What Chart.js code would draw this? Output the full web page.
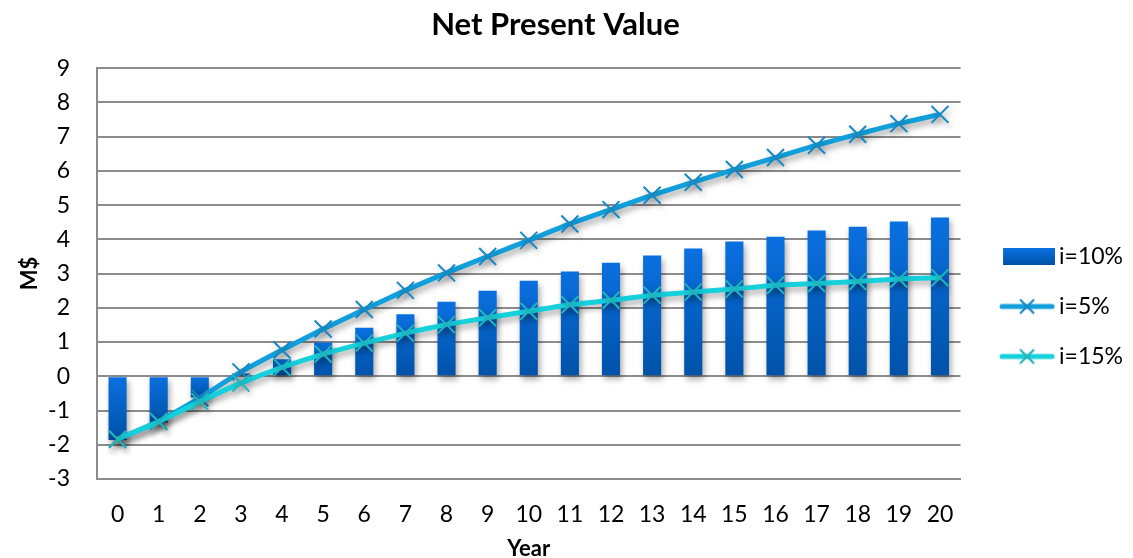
<!DOCTYPE html>
<html><head><meta charset="utf-8">
<script src="https://cdn.jsdelivr.net/npm/chart.js@4/dist/chart.umd.min.js"></script>
<style>html,body{margin:0;padding:0;background:#fff}#wrap{width:1133px;height:558px}</style>
</head><body><div id="wrap"><canvas id="c" width="1133" height="558"></canvas></div>
<script>
const years = ['0','1','2','3','4','5','6','7','8','9','10','11','12','13','14','15','16','17','18','19','20'];
const npv10 = [-1.86,-1.36,-0.62,0.08,0.50,0.99,1.42,1.81,2.18,2.50,2.79,3.06,3.32,3.53,3.73,3.94,4.08,4.26,4.37,4.52,4.64];
const npv5  = [-1.84,-1.31,-0.63,0.13,0.77,1.38,1.95,2.51,3.02,3.50,3.97,4.45,4.87,5.29,5.67,6.04,6.39,6.75,7.07,7.38,7.65];
const npv15 = [-1.84,-1.33,-0.74,-0.20,0.26,0.65,0.97,1.26,1.51,1.71,1.90,2.09,2.22,2.37,2.46,2.55,2.66,2.71,2.77,2.84,2.88];
const seriesNames = ['i=10%','i=5%','i=15%'];

const FONT = 'Lato, "Open Sans", sans-serif';
const barTop = '#0a70e0', barBot = '#0052a8';
const c5 = '#12a0dc', c5m = '#1688c4';
const c15 = '#16d0dc', c15m = '#22b4bc';

function barGradient(ctx) {
  const chart = ctx.chart;
  if (!chart.chartArea || ctx.type !== 'data') return barTop;
  const y = chart.scales.y;
  const v = ctx.raw;
  const a = y.getPixelForValue(0), b = y.getPixelForValue(v);
  const t = Math.min(a, b), bt = Math.max(a, b);
  if (bt - t < 1) return barTop;
  const g = chart.ctx.createLinearGradient(0, t, 0, bt);
  g.addColorStop(0, barTop);
  g.addColorStop(1, barBot);
  return g;
}

const ICON_W = 75;
function iconBar() {
  const cv = document.createElement('canvas'); cv.width = ICON_W; cv.height = 17;
  const x = cv.getContext('2d');
  const g = x.createLinearGradient(0, 0, 0, 17);
  g.addColorStop(0, barTop); g.addColorStop(1, barBot);
  x.fillStyle = g; x.fillRect(ICON_W - 52, 0, 52, 17);
  return cv;
}
function iconLine(col, mcol) {
  const cv = document.createElement('canvas'); cv.width = ICON_W; cv.height = 18;
  const x = cv.getContext('2d');
  const o = ICON_W - 56;
  x.strokeStyle = col; x.lineWidth = 5; x.lineCap = 'round';
  x.beginPath(); x.moveTo(o + 3, 9); x.lineTo(o + 53, 9); x.stroke();
  x.strokeStyle = mcol; x.lineWidth = 2.2; x.lineCap = 'butt';
  x.beginPath(); x.moveTo(o + 21, 2); x.lineTo(o + 35, 16); x.moveTo(o + 35, 2); x.lineTo(o + 21, 16); x.stroke();
  return cv;
}

const shadowPlugin = {
  id: 'shadow',
  beforeDatasetDraw(chart) {
    const ctx = chart.ctx; ctx.save();
    ctx.shadowColor = 'rgba(0,0,0,0.35)'; ctx.shadowBlur = 6; ctx.shadowOffsetX = 2; ctx.shadowOffsetY = 4;
  },
  afterDatasetDraw(chart) { chart.ctx.restore(); }
};

const icons = [iconBar(), iconLine(c5, c5m), iconLine(c15, c15m)];

new Chart(document.getElementById('c'), {
  type: 'bar',
  data: {
    labels: years,
    datasets: [
      { type: 'bar', label: seriesNames[0], data: npv10, backgroundColor: barGradient, borderWidth: 0,
        barPercentage: 0.44, categoryPercentage: 1, order: 3 },
      { type: 'line', label: seriesNames[1], data: npv5, borderColor: c5, borderWidth: 5, tension: 0.15,
        pointStyle: 'crossRot', pointRadius: 12, pointBorderColor: c5m, pointBorderWidth: 2, order: 2 },
      { type: 'line', label: seriesNames[2], data: npv15, borderColor: c15, borderWidth: 5, tension: 0.15,
        pointStyle: 'crossRot', pointRadius: 12, pointBorderColor: c15m, pointBorderWidth: 2, order: 1 }
    ]
  },
  options: {
    responsive: false,
    animation: false,
    devicePixelRatio: 1,
    layout: { padding: { left: -22, right: 0, top: 0, bottom: 0 } },
    plugins: {
      tooltip: { enabled: false },
      title: { display: true, text: 'Net Present Value', color: '#000',
        font: { family: FONT, size: 31, weight: 'bold' }, padding: { top: 6, bottom: 25 } },
      legend: {
        position: 'right', align: 'center',
        title: { display: true, text: ' ', font: { family: FONT, size: 10 }, padding: 21.5 },
        labels: {
          color: '#000', font: { family: FONT, size: 23 }, usePointStyle: true, pointStyleWidth: 60,
          padding: 27,
          generateLabels() {
            return seriesNames.map((n, i) => ({ text: n, pointStyle: icons[i], fillStyle: 'rgba(0,0,0,0)',
              strokeStyle: 'rgba(0,0,0,0)', lineWidth: 0, hidden: false, datasetIndex: i, fontColor: '#000' }));
          }
        }
      }
    },
    scales: {
      x: {
        afterFit(s) { s.height = 79; },
        grid: { display: false },
        border: { display: true, color: '#8c8c8c', width: 2 },
        ticks: { color: '#000', font: { family: FONT, size: 23 }, padding: 14, maxRotation: 0, autoSkip: false },
        title: { display: true, text: 'Year', color: '#000', font: { family: FONT, size: 22, weight: 'bold' },
          padding: { top: 0, bottom: -4 } }
      },
      y: {
        afterFit(s) { s.width = 119; },
        min: -3, max: 9,
        ticks: { stepSize: 1, color: '#000', font: { family: FONT, size: 23 }, padding: 27 },
        grid: { color: '#8c8c8c', lineWidth: 2, drawTicks: false },
        border: { display: true, color: '#8c8c8c', width: 2 },
        title: { display: true, text: 'M$', color: '#000', font: { family: FONT, size: 22, weight: 'bold' },
          padding: { top: 39, bottom: 0 } }
      }
    }
  },
  plugins: [shadowPlugin]
});
</script></body></html>
